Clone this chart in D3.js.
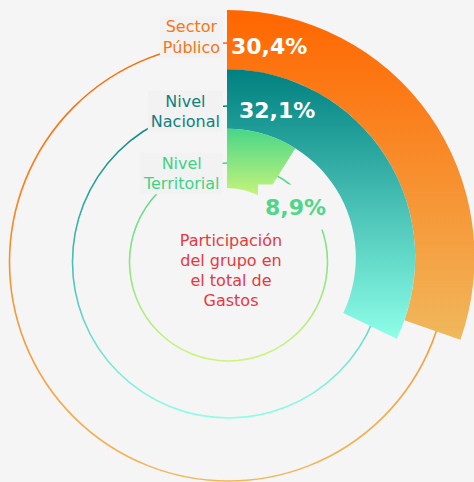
<!DOCTYPE html>
<html>
<head>
<meta charset="utf-8">
<script src="https://cdn.jsdelivr.net/npm/d3@7"></script>
<style>
  html, body { margin: 0; padding: 0; background: #f5f5f5; }
  svg { display: block; }
  text { font-family: "DejaVu Sans", Verdana, sans-serif; }
</style>
</head>
<body>
<svg id="chart" width="474" height="482"></svg>
<script>
// ---- data ----
const categories = ["Sector Público", "Nivel Nacional", "Nivel Territorial"];
const values = [30.4, 32.1, 8.9];
const valueLabels = ["30,4%", "32,1%", "8,9%"];
const categoryLines = [["Sector", "Público"], ["Nivel", "Nacional"], ["Nivel", "Territorial"]];
const centerLines = ["Participación", "del grupo en", "el total de", "Gastos"];
const angleMax = 100;

// ---- styles ----
const colorsTop = ["#ff6600", "#008080", "#48d688"];
const colorsBottom = ["#f0b85c", "#8effe8", "#ccf57a"];
const labelColors = ["#f87519", "#10807f", "#3fd283"];
const valueColors = ["#ffffff", "#ffffff", "#4fd689"];
const bg = "#f5f5f5";

const W = 474, H = 482;
const cx = 227, cy = 257.5;          // bar centre
const ccx = 228.5, ccy = 262;        // guide circle centre
const innerR = 69.5, outerR = 247.5;

const svg = d3.select("#chart");
svg.append("rect").attr("width", W).attr("height", H).attr("fill", bg);
const defs = svg.append("defs");

const angle = d3.scaleLinear().domain([0, angleMax]).range([0, 2 * Math.PI]);
const radius = d3.scaleBand()
  .domain(categories.slice().reverse())
  .range([innerR, outerR])
  .padding(0);

// gradients
categories.forEach((c, i) => {
  const g = defs.append("linearGradient")
    .attr("id", "bar" + i).attr("x1", 0).attr("y1", 0).attr("x2", 0).attr("y2", 1);
  g.append("stop").attr("offset", 0).attr("stop-color", colorsTop[i]);
  g.append("stop").attr("offset", 1).attr("stop-color", colorsBottom[i]);
  const r = radius(c) + radius.bandwidth() / 2;
  const gc = defs.append("linearGradient")
    .attr("id", "circ" + i).attr("gradientUnits", "userSpaceOnUse")
    .attr("x1", 0).attr("y1", ccy - r).attr("x2", 0).attr("y2", ccy + r);
  gc.append("stop").attr("offset", 0).attr("stop-color", colorsTop[i]);
  gc.append("stop").attr("offset", 1).attr("stop-color", colorsBottom[i]);
});

// guide circles
const circR = [219, 156, 99];
svg.append("g").selectAll("circle").data(categories).join("circle")
  .attr("cx", ccx).attr("cy", ccy)
  .attr("r", (d, i) => circR[i])
  .attr("fill", "none")
  .attr("stroke", (d, i) => `url(#circ${i})`)
  .attr("stroke-width", 1.6);

// bars
const arc = d3.arc()
  .innerRadius(d => radius(d.cat))
  .outerRadius(d => radius(d.cat) + radius.bandwidth())
  .startAngle(0)
  .endAngle(d => angle(d.v));

const barData = categories.map((c, i) => ({ cat: c, v: values[i], i }));
svg.append("g").attr("transform", `translate(${cx},${cy})`)
  .selectAll("path").data(barData).join("path")
  .attr("d", arc)
  .attr("fill", d => `url(#bar${d.i})`);

// value labels
const valueLayout = [
  { dx: 4, dy: 46.5, box: false },
  { dx: 12, dy: 110.5, box: false },
  { dx: 38, dy: 207, box: true }
];
const vg = svg.append("g");
barData.forEach((d, i) => {
  const L = valueLayout[i];
  const t = vg.append("text")
    .attr("x", cx + L.dx).attr("y", L.dy)
    .attr("dominant-baseline", "central")
    .attr("font-size", 22).attr("font-weight", "bold")
    .attr("fill", valueColors[i])
    .text(valueLabels[i]);
  if (L.box) {
    const bb = t.node().getBBox();
    vg.insert("rect", () => t.node())
      .attr("x", bb.x - 7).attr("y", bb.y - 10)
      .attr("width", bb.width + 14).attr("height", bb.height + 20)
      .attr("fill", bg);
  }
});

// category labels
const catCenterY = [37, 111.5, 173.5];
const lg = svg.append("g");
categories.forEach((c, i) => {
  const g = lg.append("g");
  const lines = categoryLines[i];
  const t = g.append("text")
    .attr("font-size", 16).attr("fill", labelColors[i])
    .attr("text-anchor", "middle");
  lines.forEach((ln, k) => {
    t.append("tspan").attr("x", 0)
      .attr("y", (k - (lines.length - 1) / 2) * 20.5)
      .attr("dominant-baseline", "central")
      .text(ln);
  });
  const bb = t.node().getBBox();
  const right = cx - 4;
  const pad = 3;
  const tx = right - pad - bb.width / 2;
  g.attr("transform", `translate(${tx},${catCenterY[i]})`);
  g.insert("rect", "text")
    .attr("x", bb.x - pad).attr("y", bb.y - 1)
    .attr("width", bb.width + 2 * pad).attr("height", bb.height + 2)
    .attr("fill", "#f2f2f2");
});

// centre text
const ct = svg.append("text")
  .attr("text-anchor", "middle")
  .attr("font-size", 16)
  .attr("fill", "#e8383d");
centerLines.forEach((ln, k) => {
  ct.append("tspan").attr("x", 231)
    .attr("y", 240 + k * 20)
    .attr("dominant-baseline", "central")
    .text(ln);
});
</script>
</body>
</html>
